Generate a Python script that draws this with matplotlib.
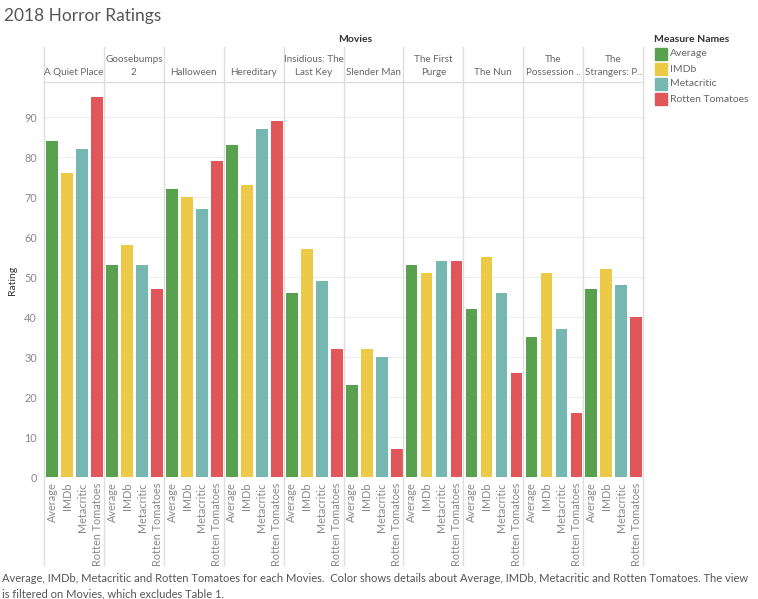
import matplotlib.pyplot as plt
import numpy as np

# ----- ----- DATA ----- -----
movies = ['A Quiet Place', 'Goosebumps\n2', 'Halloween', 'Hereditary', 'Insidious: The\nLast Key',
          'Slender Man', 'The First\nPurge', 'The Nun', 'The\nPossession ..', 'The\nStrangers: P..']
measures = ['Average', 'IMDb', 'Metacritic', 'Rotten Tomatoes']
average = [84, 53, 72, 83, 46, 23, 53, 42, 35, 47]
imdb = [76, 58, 70, 73, 57, 32, 51, 55, 51, 52]
metacritic = [82, 53, 67, 87, 49, 30, 54, 46, 37, 48]
rotten = [95, 47, 79, 89, 32, 7, 54, 26, 16, 40]
colors = ['#59A14F', '#EDC948', '#76B7B2', '#E15759']

plt.rcParams['font.family'] = ['Lato', 'DejaVu Sans']
gray = '#666666'
line_c = '#dddddd'

W, H = 758, 599
fig = plt.figure(figsize=(W / 100, H / 100), dpi=100)
ax_l, ax_r, ax_b, ax_t = 44, 643, 477, 82
ax = fig.add_axes([ax_l / W, 1 - ax_b / H, (ax_r - ax_l) / W, (ax_b - ax_t) / H])

n = len(movies)
series = [average, imdb, metacritic, rotten]
xs, labels = [], []
for i, vals in enumerate(series):
    x = np.arange(n) * 4 + i + 0.55
    ax.bar(x, vals, width=0.78, color=colors[i], label=measures[i], zorder=3)
for m in range(n):
    for i in range(4):
        xs.append(m * 4 + i + 0.55)
        labels.append(measures[i])

ax.set_xlim(0, n * 4)
ax.set_ylim(0, 98.8)
ax.set_yticks(range(0, 100, 10))
ax.set_xticks(xs)
ax.set_xticklabels(labels, rotation=90, fontsize=7.8, color='#888888', va='top')
ax.tick_params(axis='both', length=0, labelsize=7.8, colors='#888888')
ax.tick_params(axis='x', pad=4)
ax.tick_params(axis='y', pad=5)
ax.grid(axis='y', color='#eeeeee', lw=0.8, zorder=0)
for s in ax.spines.values():
    s.set_visible(False)
fig.text(12 / W, 1 - 280 / H, 'Rating', rotation=90, ha='center', va='center',
         fontsize=7.5, color='#333333')

# ----- ----- PANEL SEPARATORS ----- -----
top_px, bot_px = 47, 565
for m in range(n + 1):
    xp = ax_l + (ax_r - ax_l) * m / n
    fig.add_artist(plt.Line2D([xp / W, xp / W], [1 - top_px / H, 1 - bot_px / H],
                              color=line_c, lw=1, transform=fig.transFigure))
fig.add_artist(plt.Line2D([ax_l / W, ax_r / W], [1 - ax_t / H, 1 - ax_t / H],
                          color=line_c, lw=1, transform=fig.transFigure))

# ----- ----- HEADERS ----- -----
for m, name in enumerate(movies):
    xc = ax_l + (ax_r - ax_l) * (m + 0.5) / n
    fig.text(xc / W, 1 - 77 / H, name, ha='center', va='bottom', fontsize=7.1,
             color=gray, linespacing=1.55)
fig.text(355 / W, 1 - 40 / H, 'Movies', ha='center', va='center', fontsize=7.5,
         color='#333333', fontweight='bold')
fig.text(4 / W, 1 - 16 / H, '2018 Horror Ratings', ha='left', va='center', fontsize=12.5,
         color='#555555')

# ----- ----- LEGEND ----- -----
fig.text(654 / W, 1 - 40 / H, 'Measure Names', ha='left', va='center', fontsize=7.5,
         color='#333333', fontweight='bold')
for i, meas in enumerate(measures):
    yc = 54 + i * 15
    fig.add_artist(plt.Rectangle((655 / W, 1 - (yc + 6) / H), 12 / W, 12 / H,
                                 color=colors[i], transform=fig.transFigure))
    fig.text(670 / W, 1 - yc / H, meas, ha='left', va='center', fontsize=7.5, color=gray)

# ----- ----- CAPTION ----- -----
fig.text(2 / W, 1 - 586 / H,
         'Average, IMDb, Metacritic and Rotten Tomatoes for each Movies.  Color shows details about '
         'Average, IMDb, Metacritic and Rotten Tomatoes. The view\nis filtered on Movies, which excludes Table 1.',
         ha='left', va='center', fontsize=8.0, color='#555555', linespacing=1.45)

fig.savefig('out.png', dpi=100)
